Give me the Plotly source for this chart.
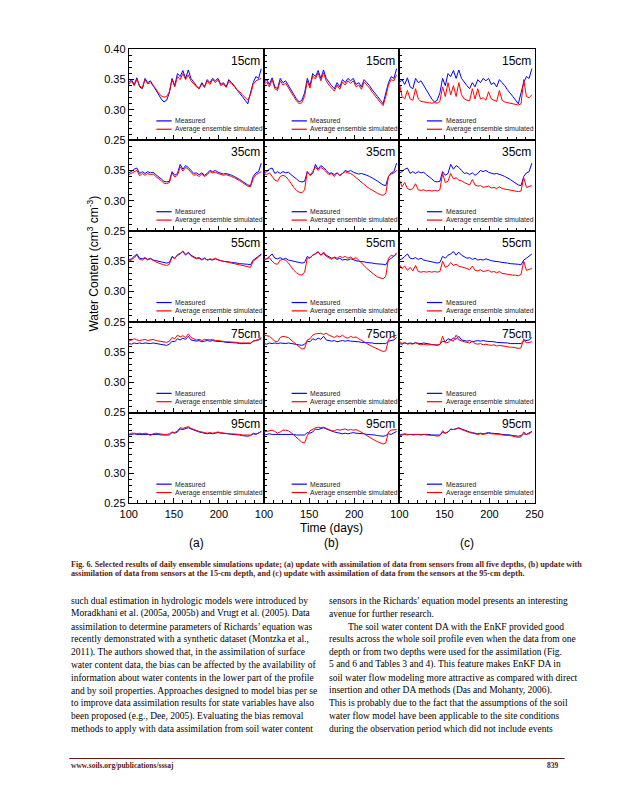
import plotly.graph_objects as go

days = list(range(100, 248, 3))

depth_labels = ["15cm", "35cm", "55cm", "75cm", "95cm"]
column_labels = ["(a)", "(b)", "(c)"]

M15 = [0.345,0.350,0.342,0.353,0.338,0.335,0.352,0.345,0.348,0.340,
       0.333,0.325,0.318,0.313,0.316,0.328,0.352,0.340,0.360,0.355,
       0.365,0.352,0.366,0.352,0.345,0.340,0.335,0.345,0.338,0.350,
       0.345,0.352,0.348,0.352,0.342,0.345,0.338,0.350,0.345,0.340,
       0.333,0.328,0.322,0.316,0.310,0.328,0.345,0.355,0.352,0.368]
S15a = [0.342,0.348,0.340,0.350,0.340,0.336,0.350,0.343,0.345,0.340,
        0.335,0.328,0.323,0.321,0.322,0.330,0.350,0.338,0.355,0.350,
        0.360,0.350,0.358,0.348,0.342,0.338,0.335,0.343,0.337,0.348,
        0.342,0.350,0.345,0.350,0.340,0.343,0.337,0.347,0.343,0.339,
        0.333,0.330,0.325,0.320,0.316,0.325,0.342,0.348,0.350,0.352]
S15b = [0.342,0.346,0.338,0.350,0.335,0.332,0.348,0.341,0.344,0.336,
        0.329,0.322,0.315,0.310,0.312,0.322,0.348,0.336,0.356,0.351,
        0.361,0.348,0.361,0.348,0.341,0.336,0.331,0.341,0.334,0.346,
        0.341,0.348,0.344,0.348,0.338,0.341,0.334,0.346,0.341,0.336,
        0.329,0.324,0.318,0.312,0.307,0.322,0.341,0.350,0.348,0.358]
S15c = [0.345,0.322,0.318,0.332,0.318,0.316,0.335,0.318,0.314,0.313,
        0.312,0.312,0.311,0.312,0.311,0.314,0.338,0.322,0.345,0.325,
        0.340,0.322,0.345,0.325,0.318,0.316,0.315,0.335,0.318,0.335,
        0.318,0.320,0.316,0.330,0.318,0.316,0.314,0.332,0.316,0.313,
        0.312,0.312,0.311,0.309,0.308,0.310,0.350,0.322,0.320,0.325]

M35 = [0.346,0.348,0.352,0.354,0.345,0.348,0.345,0.348,0.346,0.347,
       0.343,0.340,0.336,0.332,0.331,0.332,0.348,0.342,0.345,0.360,
       0.352,0.358,0.355,0.350,0.345,0.346,0.343,0.346,0.342,0.345,
       0.350,0.348,0.350,0.347,0.346,0.344,0.345,0.344,0.342,0.340,
       0.338,0.335,0.332,0.329,0.326,0.325,0.340,0.346,0.348,0.362]
S35a = [0.343,0.345,0.348,0.350,0.341,0.345,0.342,0.345,0.343,0.344,
        0.340,0.337,0.333,0.329,0.328,0.330,0.346,0.339,0.342,0.356,
        0.349,0.355,0.352,0.347,0.342,0.343,0.340,0.344,0.340,0.343,
        0.348,0.346,0.347,0.345,0.344,0.342,0.343,0.342,0.340,0.338,
        0.336,0.333,0.330,0.327,0.324,0.323,0.336,0.343,0.346,0.348]
S35b = [0.345,0.343,0.346,0.340,0.334,0.332,0.340,0.342,0.340,0.335,
        0.328,0.322,0.317,0.314,0.313,0.318,0.348,0.342,0.348,0.356,
        0.350,0.355,0.352,0.348,0.343,0.345,0.340,0.346,0.341,0.345,
        0.348,0.346,0.345,0.342,0.338,0.335,0.331,0.327,0.323,0.320,
        0.317,0.314,0.312,0.310,0.309,0.312,0.340,0.344,0.346,0.350]
S35c = [0.335,0.323,0.330,0.320,0.318,0.320,0.328,0.318,0.317,0.318,
        0.316,0.317,0.316,0.317,0.316,0.318,0.345,0.330,0.332,0.345,
        0.336,0.338,0.334,0.333,0.330,0.328,0.326,0.335,0.326,0.324,
        0.325,0.322,0.323,0.324,0.321,0.322,0.320,0.323,0.320,0.319,
        0.318,0.317,0.317,0.316,0.315,0.316,0.338,0.322,0.323,0.325]

M55 = [0.352,0.354,0.358,0.362,0.355,0.354,0.356,0.353,0.355,0.352,
       0.351,0.350,0.349,0.348,0.347,0.348,0.358,0.355,0.360,0.362,
       0.366,0.360,0.365,0.360,0.358,0.355,0.356,0.353,0.355,0.352,
       0.353,0.352,0.354,0.352,0.351,0.350,0.350,0.349,0.348,0.348,
       0.347,0.346,0.346,0.345,0.345,0.344,0.352,0.355,0.358,0.362]
S55a = [0.350,0.352,0.356,0.360,0.353,0.352,0.355,0.352,0.354,0.351,
        0.349,0.347,0.345,0.344,0.343,0.345,0.357,0.354,0.361,0.363,
        0.367,0.361,0.364,0.359,0.356,0.354,0.355,0.352,0.355,0.352,
        0.354,0.353,0.355,0.352,0.351,0.350,0.349,0.348,0.347,0.346,
        0.345,0.344,0.343,0.342,0.341,0.340,0.350,0.354,0.357,0.361]
S55b = [0.352,0.354,0.356,0.350,0.346,0.345,0.352,0.353,0.352,0.347,
        0.340,0.335,0.331,0.328,0.327,0.332,0.355,0.356,0.360,0.363,
        0.365,0.360,0.363,0.358,0.356,0.353,0.357,0.355,0.358,0.356,
        0.358,0.355,0.357,0.354,0.356,0.352,0.348,0.343,0.338,0.334,
        0.330,0.327,0.324,0.322,0.321,0.325,0.355,0.360,0.358,0.364]
S55c = [0.345,0.338,0.342,0.335,0.340,0.334,0.343,0.333,0.332,0.333,
        0.332,0.333,0.332,0.333,0.332,0.333,0.350,0.340,0.342,0.348,
        0.343,0.345,0.342,0.341,0.340,0.338,0.336,0.342,0.335,0.334,
        0.336,0.333,0.334,0.335,0.332,0.333,0.331,0.333,0.330,0.329,
        0.328,0.328,0.327,0.327,0.326,0.328,0.350,0.335,0.336,0.338]

M75 = [0.364,0.363,0.365,0.364,0.365,0.364,0.365,0.364,0.364,0.365,
       0.364,0.363,0.362,0.362,0.361,0.363,0.368,0.367,0.372,0.370,
       0.373,0.371,0.376,0.370,0.369,0.368,0.369,0.367,0.368,0.369,
       0.368,0.369,0.368,0.368,0.367,0.367,0.366,0.366,0.366,0.365,
       0.365,0.364,0.364,0.364,0.363,0.364,0.368,0.369,0.370,0.374]
S75a = [0.368,0.370,0.372,0.370,0.369,0.370,0.371,0.369,0.370,0.371,
        0.369,0.368,0.367,0.367,0.366,0.368,0.374,0.372,0.378,0.375,
        0.377,0.374,0.380,0.374,0.372,0.370,0.371,0.369,0.371,0.370,
        0.370,0.371,0.369,0.369,0.368,0.368,0.367,0.367,0.367,0.366,
        0.366,0.365,0.365,0.365,0.364,0.365,0.368,0.369,0.370,0.372]
S75b = [0.378,0.377,0.376,0.372,0.368,0.367,0.374,0.376,0.375,0.374,
        0.370,0.366,0.362,0.358,0.355,0.356,0.370,0.372,0.378,0.380,
        0.380,0.381,0.379,0.381,0.378,0.376,0.374,0.377,0.375,0.378,
        0.374,0.373,0.376,0.374,0.375,0.372,0.370,0.367,0.364,0.361,
        0.359,0.357,0.355,0.353,0.351,0.352,0.370,0.375,0.377,0.378]
S75c = [0.368,0.364,0.366,0.363,0.364,0.363,0.366,0.363,0.362,0.363,
        0.362,0.362,0.361,0.362,0.361,0.362,0.376,0.365,0.366,0.370,
        0.368,0.378,0.370,0.368,0.367,0.366,0.365,0.368,0.364,0.363,
        0.364,0.362,0.363,0.362,0.361,0.362,0.360,0.361,0.360,0.359,
        0.359,0.358,0.358,0.357,0.356,0.357,0.372,0.365,0.366,0.367]

M95 = [0.363,0.364,0.365,0.364,0.364,0.365,0.364,0.365,0.364,0.364,
       0.365,0.364,0.363,0.363,0.362,0.363,0.367,0.366,0.368,0.373,
       0.372,0.374,0.375,0.373,0.371,0.370,0.368,0.367,0.366,0.365,
       0.366,0.365,0.366,0.367,0.366,0.366,0.365,0.365,0.364,0.364,
       0.364,0.363,0.362,0.361,0.361,0.362,0.365,0.364,0.366,0.369]
S95a = [0.364,0.366,0.366,0.365,0.366,0.365,0.366,0.365,0.362,0.365,
        0.366,0.365,0.364,0.364,0.364,0.365,0.368,0.367,0.370,0.375,
        0.374,0.376,0.377,0.374,0.372,0.370,0.369,0.368,0.367,0.366,
        0.367,0.366,0.367,0.368,0.367,0.366,0.366,0.365,0.365,0.365,
        0.364,0.364,0.363,0.363,0.362,0.363,0.366,0.365,0.366,0.369]
S95b = [0.368,0.369,0.371,0.371,0.369,0.366,0.368,0.371,0.371,0.370,
        0.367,0.363,0.359,0.355,0.351,0.350,0.362,0.370,0.373,0.375,
        0.376,0.375,0.376,0.374,0.372,0.370,0.370,0.372,0.371,0.372,
        0.373,0.371,0.372,0.371,0.372,0.370,0.368,0.365,0.362,0.359,
        0.357,0.354,0.352,0.350,0.348,0.350,0.368,0.371,0.372,0.372]
S95c = [0.362,0.363,0.364,0.363,0.364,0.363,0.364,0.364,0.363,0.364,
        0.363,0.363,0.362,0.362,0.361,0.362,0.370,0.366,0.368,0.372,
        0.372,0.373,0.374,0.372,0.370,0.368,0.367,0.366,0.365,0.364,
        0.365,0.364,0.365,0.366,0.365,0.365,0.364,0.364,0.363,0.363,
        0.362,0.362,0.361,0.360,0.359,0.360,0.368,0.364,0.365,0.368]

measured = [M15, M35, M55, M75, M95]
simulated = [[S15a, S15b, S15c], [S35a, S35b, S35c], [S55a, S55b, S55c],
             [S75a, S75b, S75c], [S95a, S95b, S95c]]

caption = [
    "Fig. 6. Selected results of daily ensemble simulations update; (a) update with assimilation of data from sensors from all five depths, (b) update with",
    "assimilation of data from sensors at the 15-cm depth, and (c) update with assimilation of data from the sensors at the 95-cm depth.",
]
body_left = [
    "such dual estimation in hydrologic models were introduced by",
    "Moradkhani et al. (2005a, 2005b) and Vrugt et al. (2005). Data",
    "assimilation to determine parameters of Richards\u2019 equation was",
    "recently demonstrated with a synthetic dataset (Montzka et al.,",
    "2011). The authors showed that, in the assimilation of surface",
    "water content data, the bias can be affected by the availability of",
    "information about water contents in the lower part of the profile",
    "and by soil properties. Approaches designed to model bias per se",
    "to improve data assimilation results for state variables have also",
    "been proposed (e.g., Dee, 2005). Evaluating the bias removal",
    "methods to apply with data assimilation from soil water content",
]
body_right = [
    "sensors in the Richards\u2019 equation model presents an interesting",
    "avenue for further research.",
    "&nbsp;&nbsp;&nbsp;&nbsp;&nbsp;&nbsp;&nbsp;&nbsp;The soil water content DA with the EnKF provided good",
    "results across the whole soil profile even when the data from one",
    "depth or from two depths were used for the assimilation (Fig.",
    "5 and 6 and Tables 3 and 4). This feature makes EnKF DA in",
    "soil water flow modeling more attractive as compared with direct",
    "insertion and other DA methods (Das and Mohanty, 2006).",
    "This is probably due to the fact that the assumptions of the soil",
    "water flow model have been applicable to the site conditions",
    "during the observation period which did not include events",
]
footer_left = "www.soils.org/publications/sssaj"
footer_right = "839"

W, H = 630, 800
col_x = [123.3, 262.5, 401.8, 541.0]
row_y = [44.0, 136.2, 228.4, 320.6, 412.8, 505.0]
SANS = "Liberation Sans, Arial, sans-serif"
SERIF = "Liberation Serif, Times New Roman, serif"
MAROON = "#5a1a10"

fig = go.Figure()
layout = {}
shapes = []
annotations = []

for r in range(5):
    for c in range(3):
        k = r * 3 + c + 1
        xs = "" if k == 1 else str(k)
        xname, yname = "x" + xs, "y" + xs
        fig.add_trace(go.Scatter(x=days, y=measured[r], mode="lines",
                                 line=dict(color="#0000ff", width=1),
                                 xaxis=xname, yaxis=yname, showlegend=False))
        fig.add_trace(go.Scatter(x=days, y=simulated[r][c], mode="lines",
                                 line=dict(color="#ff0000", width=1),
                                 xaxis=xname, yaxis=yname, showlegend=False))
        xv = [100, 150, 200] if c < 2 else [100, 150, 200, 250]
        layout["xaxis" + xs] = dict(
            domain=[col_x[c] / W, col_x[c + 1] / W], range=[100, 250],
            anchor=yname, showline=True, mirror=True, linecolor="black", linewidth=1,
            ticks="inside", ticklen=5, tickcolor="black",
            tickvals=xv, ticktext=[str(v) for v in xv],
            showticklabels=(r == 4), showgrid=False, zeroline=False,
            tickfont=dict(family=SANS, size=11, color="black"),
            minor=dict(dtick=10, ticks="inside", ticklen=3, tickcolor="black", showgrid=False),
        )
        yv = [0.25, 0.30, 0.35, 0.40] if r == 0 else [0.25, 0.30, 0.35]
        layout["yaxis" + xs] = dict(
            domain=[1 - row_y[r + 1] / H, 1 - row_y[r] / H], range=[0.25, 0.40],
            anchor=xname, showline=True, mirror=True, linecolor="black", linewidth=1,
            ticks="inside", ticklen=5, tickcolor="black",
            tickvals=yv, ticktext=["%.2f" % v for v in yv],
            showticklabels=(c == 0), showgrid=False, zeroline=False,
            tickfont=dict(family=SANS, size=11, color="black"),
            minor=dict(dtick=0.01, ticks="inside", ticklen=3, tickcolor="black", showgrid=False),
        )
        annotations.append(dict(text=depth_labels[r], xref=xname + " domain", yref=yname + " domain",
                                x=0.985, y=0.97, xanchor="right", yanchor="top", showarrow=False,
                                font=dict(family=SANS, size=12, color="black")))
        for yy, col, lab in [(0.212, "#0000ff", "Measured"), (0.12, "#ff0000", "Average ensemble simulated")]:
            shapes.append(dict(type="line", xref=xname + " domain", yref=yname + " domain",
                               x0=0.204, x1=0.317, y0=yy, y1=yy, line=dict(color=col, width=1.2)))
            annotations.append(dict(text=lab, xref=xname + " domain", yref=yname + " domain",
                                    x=0.328, y=yy, xanchor="left", yanchor="middle", showarrow=False,
                                    font=dict(family=SANS, size=6.8, color="#222")))

annotations.append(dict(text="Time (days)", xref="paper", yref="paper", x=332 / W, y=1 - 530 / H,
                        xanchor="center", yanchor="middle", showarrow=False,
                        font=dict(family=SANS, size=12, color="black")))
annotations.append(dict(text="Water Content (cm<sup>3</sup> cm<sup>-3</sup>)", xref="paper", yref="paper",
                        x=87 / W, y=1 - 262 / H, xanchor="center", yanchor="middle", textangle=-90,
                        showarrow=False, font=dict(family=SANS, size=12, color="black")))
for c, lab in enumerate(column_labels):
    annotations.append(dict(text=lab, xref="paper", yref="paper", x=(col_x[c] + col_x[c + 1]) / 2 / W,
                            y=1 - 545 / H, xanchor="center", yanchor="middle", showarrow=False,
                            font=dict(family=SANS, size=12, color="black")))

for i, line in enumerate(caption):
    annotations.append(dict(text="<b>" + line + "</b>", xref="paper", yref="paper", x=62 / W,
                            y=1 - (567 + 9.5 * i) / H, xanchor="left", yanchor="middle", showarrow=False,
                            font=dict(family=SERIF, size=8.2, color=MAROON)))

for i, line in enumerate(body_left):
    annotations.append(dict(text=line, xref="paper", yref="paper", x=62 / W, y=1 - (604 + 13 * i) / H,
                            xanchor="left", yanchor="middle", showarrow=False,
                            font=dict(family=SERIF, size=9.5, color="black")))
for i, line in enumerate(body_right):
    annotations.append(dict(text=line, xref="paper", yref="paper", x=327 / W, y=1 - (604 + 13 * i) / H,
                            xanchor="left", yanchor="middle", showarrow=False,
                            font=dict(family=SERIF, size=9.5, color="black")))

shapes.append(dict(type="line", xref="paper", yref="paper", x0=62 / W, x1=572 / W,
                   y0=1 - 764 / H, y1=1 - 764 / H, line=dict(color=MAROON, width=1)))
annotations.append(dict(text="<b>" + footer_left + "</b>", xref="paper", yref="paper", x=62 / W,
                        y=1 - 771 / H, xanchor="left", yanchor="middle", showarrow=False,
                        font=dict(family=SERIF, size=7.5, color=MAROON)))
annotations.append(dict(text="<b>" + footer_right + "</b>", xref="paper", yref="paper", x=568 / W,
                        y=1 - 771 / H, xanchor="right", yanchor="middle", showarrow=False,
                        font=dict(family=SERIF, size=7.5, color=MAROON)))

fig.update_layout(width=W, height=H, margin=dict(l=0, r=0, t=0, b=0),
                  paper_bgcolor="white", plot_bgcolor="white",
                  shapes=shapes, annotations=annotations, showlegend=False, **layout)

fig.write_html("out.html", config={"displayModeBar": False},
               post_script="document.body.style.margin='0';document.body.style.overflow='hidden';")
